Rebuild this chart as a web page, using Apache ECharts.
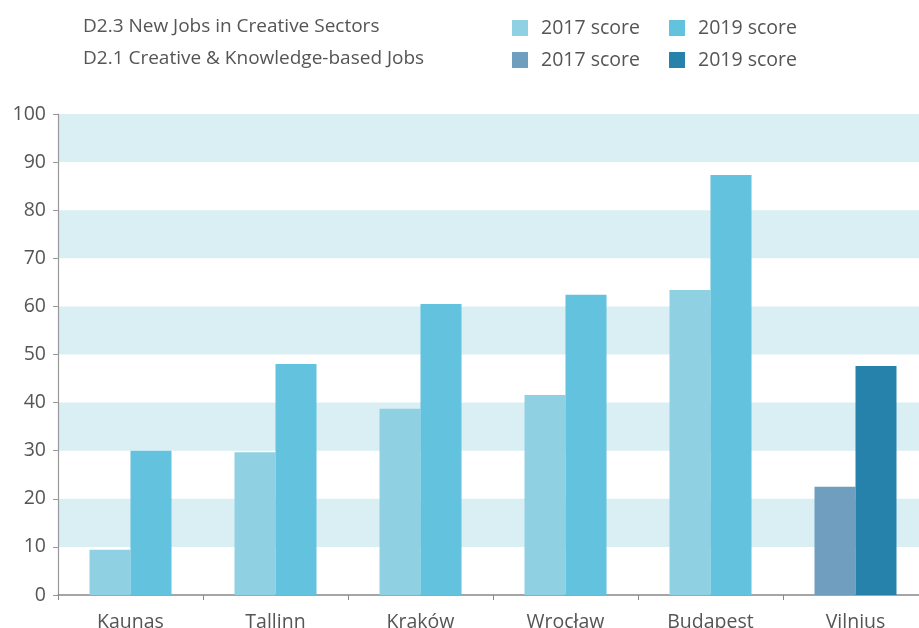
<!DOCTYPE html>
<html><head><meta charset="utf-8">
<script src="https://cdn.jsdelivr.net/npm/echarts@6/dist/echarts.min.js"></script>
<style>html,body{margin:0;padding:0;background:#fff}#c{width:919px;height:628px}</style>
</head><body><div id="c"></div>
<script>
const categories = ['Kaunas','Tallinn','Kraków','Wrocław','Budapest','Vilnius'];
const d23_2017 = [9.4, 29.7, 38.7, 41.6, 63.4, '-'];
const d23_2019 = [30.0, 48.0, 60.5, 62.4, 87.3, '-'];
const d21_2017 = ['-', '-', '-', '-', '-', 22.5];
const d21_2019 = ['-', '-', '-', '-', '-', 47.6];
const yTicks = [0,10,20,30,40,50,60,70,80,90,100];
const rowLabels = ['D2.3 New Jobs in Creative Sectors', 'D2.1 Creative & Knowledge-based Jobs'];

const FONT = '"Open Sans", "DejaVu Sans", sans-serif';
const TXT = '#555';
const chart = echarts.init(document.getElementById('c'));
function leg(name, left, top){
  return {data:[name], left, top, icon:'rect', itemWidth:16, itemHeight:16, selectedMode:false,
    formatter: n => n.split(' ')[1] + ' score',
    textStyle:{color:TXT, fontSize:19.5, fontFamily:FONT, padding:[0,0,0,8]}};
}
const bw = 41;
chart.setOption({
  animation:false,
  textStyle:{fontFamily:FONT},
  graphic:[
    {type:'text', left:83, top:17, style:{text:rowLabels[0], fill:TXT, font:'19px '+FONT}},
    {type:'text', left:83, top:49, style:{text:rowLabels[1], fill:TXT, font:'19px '+FONT}}
  ],
  legend:[
    leg('D2.3 2017', 507, 13),
    leg('D2.3 2019', 664, 13),
    leg('D2.1 2017', 507, 45),
    leg('D2.1 2019', 664, 45)
  ],
  grid:{left:58, width:870, top:114, bottom:33, containLabel:false, outerBoundsMode:'none'},
  xAxis:{type:'category', data:categories,
    axisLine:{lineStyle:{color:'#888', width:1.5}},
    axisTick:{show:true, length:5, lineStyle:{color:'#888'}},
    axisLabel:{color:TXT, fontSize:19.5, fontFamily:FONT, margin:17}},
  yAxis:{type:'value', min:0, max:100, interval:10,
    axisLine:{show:true, lineStyle:{color:'#999', width:1.2}},
    axisTick:{show:true, length:5, lineStyle:{color:'#999'}},
    axisLabel:{color:TXT, fontSize:19.5, fontFamily:FONT, margin:12,
      formatter: v => yTicks.includes(v) ? String(v) : ''},
    splitLine:{show:false},
    splitArea:{show:true, areaStyle:{color:['rgba(255,255,255,0)','#d9eff4']}}},
  series:[
    {name:'D2.3 2017', type:'bar', stack:'a', data:d23_2017, barWidth:bw, barGap:'0%', itemStyle:{color:'#8fd0e3'}},
    {name:'D2.3 2019', type:'bar', stack:'b', data:d23_2019, barWidth:bw, barGap:'0%', itemStyle:{color:'#63c2dd'}},
    {name:'D2.1 2017', type:'bar', stack:'a', data:d21_2017, barWidth:bw, barGap:'0%', itemStyle:{color:'#6f9ebf'}},
    {name:'D2.1 2019', type:'bar', stack:'b', data:d21_2019, barWidth:bw, barGap:'0%', itemStyle:{color:'#2681ab'}}
  ]
});
</script></body></html>
